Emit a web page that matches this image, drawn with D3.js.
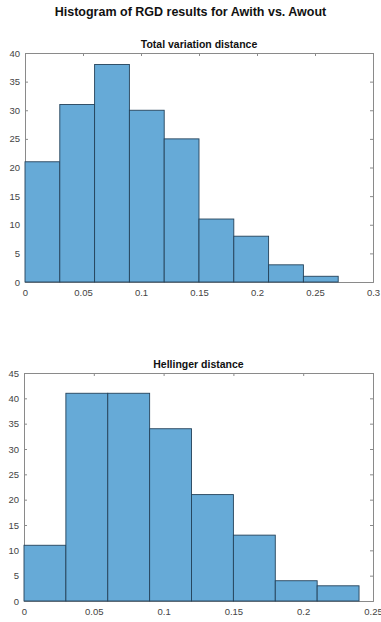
<!DOCTYPE html>
<html>
<head>
<meta charset="utf-8">
<script src="https://cdn.jsdelivr.net/npm/d3@7"></script>
<style>
  body { margin: 0; background: #fff; }
  svg { font-family: "Liberation Sans", Arial, sans-serif; }
  .axis path, .axis line { stroke: #8a8a8a; }
  .axis text { fill: #444; font-size: 9.5px; }
</style>
</head>
<body>
<div id="chart-area"></div>
<script>
// Bin edges and counts
var tvEdges = [0, 0.03, 0.06, 0.09, 0.12, 0.15, 0.18, 0.21, 0.24, 0.27];
var tvCounts = [21, 31, 38, 30, 25, 11, 8, 3, 1];
var tvXTicks = [0, 0.05, 0.1, 0.15, 0.2, 0.25, 0.3];
var tvYTicks = [0, 5, 10, 15, 20, 25, 30, 35, 40];

var hdEdges = [0, 0.03, 0.06, 0.09, 0.12, 0.15, 0.18, 0.21, 0.24];
var hdCounts = [11, 41, 41, 34, 21, 13, 4, 3];
var hdXTicks = [0, 0.05, 0.1, 0.15, 0.2, 0.25];
var hdYTicks = [0, 5, 10, 15, 20, 25, 30, 35, 40, 45];

var W = 381, H = 622;

var svg = d3.select("#chart-area")
    .append("svg")
        .attr("width", W)
        .attr("height", H);

// Main title
svg.append("text")
    .attr("x", W / 2)
    .attr("y", 16)
    .attr("text-anchor", "middle")
    .attr("font-size", "12.5px")
    .attr("font-weight", "bold")
    .attr("fill", "#111")
    .text("Histogram of RGD results for Awith vs. Awout");

function histogram(opts) {
    var g = svg.append("g")
        .attr("transform", "translate(" + opts.left + "," + opts.top + ")");

    var width = opts.width, height = opts.height;

    var x = d3.scaleLinear()
        .domain([0, opts.xMax])
        .range([0, width]);

    var y = d3.scaleLinear()
        .domain([0, opts.yMax])
        .range([height, 0]);

    var bins = opts.counts.map(function(c, i) {
        return { x0: opts.edges[i], x1: opts.edges[i + 1], n: c };
    });

    // Axes (ticks pointing inward, box all round)
    g.append("g")
        .attr("class", "axis")
        .attr("transform", "translate(0," + height + ")")
        .call(d3.axisBottom(x).tickValues(opts.xTicks).tickSize(-3).tickPadding(7)
            .tickFormat(function(d){ return d3.format("")(+d.toFixed(2)); }));

    g.append("g")
        .attr("class", "axis")
        .call(d3.axisLeft(y).tickValues(opts.yTicks).tickSize(-3).tickPadding(5));

    g.append("g")
        .attr("class", "axis")
        .call(d3.axisTop(x).tickValues(opts.xTicks).tickSize(-3).tickFormat(""));

    g.append("g")
        .attr("class", "axis")
        .attr("transform", "translate(" + width + ",0)")
        .call(d3.axisRight(y).tickValues(opts.yTicks).tickSize(-3).tickFormat(""));

    g.selectAll("rect")
        .data(bins)
        .enter()
        .append("rect")
            .attr("x", function(d){ return x(d.x0); })
            .attr("width", function(d){ return x(d.x1) - x(d.x0); })
            .attr("y", function(d){ return y(d.n); })
            .attr("height", function(d){ return height - y(d.n); })
            .attr("fill", "#66aad7")
            .attr("stroke", "#24425a")
            .attr("stroke-width", 0.9);

    // Subplot title
    g.append("text")
        .attr("x", width / 2)
        .attr("y", -5)
        .attr("text-anchor", "middle")
        .attr("font-size", "10.5px")
        .attr("font-weight", "bold")
        .attr("fill", "#111")
        .text(opts.title);
}

histogram({
    left: 25, top: 53, width: 348, height: 229,
    xMax: 0.3, yMax: 40,
    edges: tvEdges, counts: tvCounts,
    xTicks: tvXTicks, yTicks: tvYTicks,
    title: "Total variation distance"
});

histogram({
    left: 24, top: 373, width: 349, height: 228,
    xMax: 0.25, yMax: 45,
    edges: hdEdges, counts: hdCounts,
    xTicks: hdXTicks, yTicks: hdYTicks,
    title: "Hellinger distance"
});
</script>
</body>
</html>
